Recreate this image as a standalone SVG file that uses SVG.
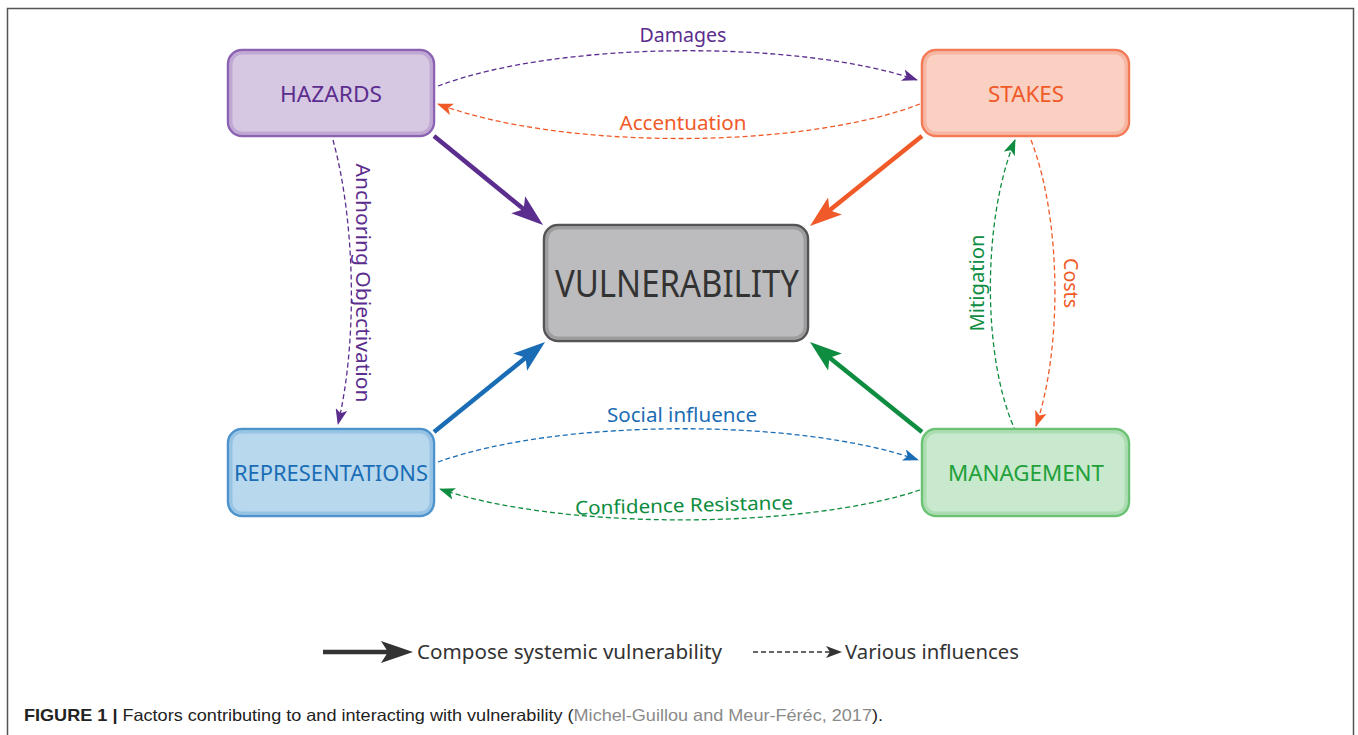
<svg xmlns="http://www.w3.org/2000/svg" width="1358" height="735" viewBox="0 0 1358 735">
<style>
.lbl{font-family:"Noto Sans","Open Sans",sans-serif;}
.node{stroke-width:2.5;}
.glow{fill:none;stroke-width:3;stroke-opacity:0.3;}
.thick{fill:none;stroke-width:4.5;stroke-linecap:butt;}
.dash{fill:none;stroke-width:1.3;stroke-dasharray:5 3;}
.cap{font-family:"Liberation Sans Narrow","Liberation Sans",Arial,sans-serif;font-size:16.5px;}
</style>
<defs>
<marker id="hP" markerUnits="userSpaceOnUse" markerWidth="32" markerHeight="24" viewBox="0 0 32 24" refX="12" refY="12" orient="auto"><path d="M0,1 L32,12 L0,23 L7,12 Z" fill="#5b2d8e"/></marker>
<marker id="hO" markerUnits="userSpaceOnUse" markerWidth="32" markerHeight="24" viewBox="0 0 32 24" refX="12" refY="12" orient="auto"><path d="M0,1 L32,12 L0,23 L7,12 Z" fill="#f05a28"/></marker>
<marker id="hB" markerUnits="userSpaceOnUse" markerWidth="32" markerHeight="24" viewBox="0 0 32 24" refX="12" refY="12" orient="auto"><path d="M0,1 L32,12 L0,23 L7,12 Z" fill="#1a6db5"/></marker>
<marker id="hG" markerUnits="userSpaceOnUse" markerWidth="32" markerHeight="24" viewBox="0 0 32 24" refX="12" refY="12" orient="auto"><path d="M0,1 L32,12 L0,23 L7,12 Z" fill="#0e8c3f"/></marker>
<marker id="hK" markerUnits="userSpaceOnUse" markerWidth="32" markerHeight="24" viewBox="0 0 32 24" refX="12" refY="12" orient="auto"><path d="M0,1 L32,12 L0,23 L7,12 Z" fill="#333333"/></marker>
<marker id="dP" markerUnits="userSpaceOnUse" markerWidth="16" markerHeight="12" viewBox="0 0 16 12" refX="15" refY="6" orient="auto"><path d="M0,0 L16,6 L0,12 L4,6 Z" fill="#5b2d8e"/></marker>
<marker id="dO" markerUnits="userSpaceOnUse" markerWidth="16" markerHeight="12" viewBox="0 0 16 12" refX="15" refY="6" orient="auto"><path d="M0,0 L16,6 L0,12 L4,6 Z" fill="#f05a28"/></marker>
<marker id="dB" markerUnits="userSpaceOnUse" markerWidth="16" markerHeight="12" viewBox="0 0 16 12" refX="15" refY="6" orient="auto"><path d="M0,0 L16,6 L0,12 L4,6 Z" fill="#1a6db5"/></marker>
<marker id="dG" markerUnits="userSpaceOnUse" markerWidth="16" markerHeight="12" viewBox="0 0 16 12" refX="15" refY="6" orient="auto"><path d="M0,0 L16,6 L0,12 L4,6 Z" fill="#0e8c3f"/></marker>
<marker id="dK" markerUnits="userSpaceOnUse" markerWidth="16" markerHeight="12" viewBox="0 0 16 12" refX="15" refY="6" orient="auto"><path d="M0,0 L16,6 L0,12 L4,6 Z" fill="#333333"/></marker>
</defs>
<rect width="1358" height="735" fill="#ffffff"/>
<path d="M7.5,735 V8.5 H1353.5 V735" fill="none" stroke="#555" stroke-width="1.5"/>

<g id="connectors">
  <path class="thick" stroke="#5b2d8e" d="M434,136 L527.5,212.3" marker-end="url(#hP)"/>
  <path class="thick" stroke="#f05a28" d="M922,136 L825.6,213.5" marker-end="url(#hO)"/>
  <path class="thick" stroke="#1a6db5" d="M434,432 L529.5,354.6" marker-end="url(#hB)"/>
  <path class="thick" stroke="#0e8c3f" d="M922,432 L825.6,354.5" marker-end="url(#hG)"/>

  <path class="dash" stroke="#5b2d8e" d="M438,86 C560,40 800,40 917,80" marker-end="url(#dP)"/>
  <path class="dash" stroke="#f05a28" d="M920,104 C800,150 560,150 438,104" marker-end="url(#dO)"/>
  <path class="dash" stroke="#5b2d8e" d="M333,140 C355,220 358,340 338,424" marker-end="url(#dP)"/>
  <path class="dash" stroke="#0e8c3f" d="M1016,432 C982,360 982,220 1015,140" marker-end="url(#dG)"/>
  <path class="dash" stroke="#f05a28" d="M1031,140 C1062,220 1062,350 1036,426" marker-end="url(#dO)"/>
  <path class="dash" stroke="#1a6db5" d="M438,462 C560,418 800,418 918,460" marker-end="url(#dB)"/>
  <path class="dash" stroke="#0e8c3f" d="M920,490 C800,530 560,530 440,489" marker-end="url(#dG)"/>

  <text class="lbl" x="683" y="42" font-size="19" fill="#5b2d8e" text-anchor="middle" textLength="87" lengthAdjust="spacingAndGlyphs">Damages</text>
  <text class="lbl" x="683" y="130" font-size="19" fill="#f05a28" text-anchor="middle" textLength="127" lengthAdjust="spacingAndGlyphs">Accentuation</text>
  <text class="lbl" x="682" y="422" font-size="19" fill="#1a6db5" text-anchor="middle" textLength="150" lengthAdjust="spacingAndGlyphs">Social influence</text>
  <text class="lbl" x="684" y="512" font-size="19" fill="#0e8c3f" text-anchor="middle" textLength="218" lengthAdjust="spacingAndGlyphs" transform="rotate(-1.5 684 506)">Confidence  Resistance</text>
  <text class="lbl" x="0" y="0" font-size="19" fill="#5b2d8e" text-anchor="middle" dominant-baseline="central" textLength="239" lengthAdjust="spacingAndGlyphs" transform="translate(363 283) rotate(90)">Anchoring  Objectivation</text>
  <text class="lbl" x="0" y="0" font-size="19" fill="#0e8c3f" text-anchor="middle" dominant-baseline="central" textLength="97" lengthAdjust="spacingAndGlyphs" transform="translate(977 283) rotate(-90)">Mitigation</text>
  <text class="lbl" x="0" y="0" font-size="19" fill="#f05a28" text-anchor="middle" dominant-baseline="central" textLength="50" lengthAdjust="spacingAndGlyphs" transform="translate(1071 283) rotate(90)">Costs</text>
</g>

<g id="hazards">
  <rect class="node" x="228" y="50" width="206" height="86" rx="14" fill="#d6c7e2" stroke="#8c62b3"/>
  <rect class="glow" x="231" y="53" width="200" height="80" rx="11" stroke="#8c62b3"/>
  <text class="lbl" x="331" y="102" font-size="21" fill="#5b2d8e" text-anchor="middle" textLength="102" lengthAdjust="spacingAndGlyphs">HAZARDS</text>
</g>
<g id="stakes">
  <rect class="node" x="922" y="50" width="207" height="86" rx="14" fill="#f9d0c2" stroke="#f27a56"/>
  <rect class="glow" x="925" y="53" width="201" height="80" rx="11" stroke="#f27a56"/>
  <text class="lbl" x="1026" y="102" font-size="21" fill="#f05a28" text-anchor="middle" textLength="76" lengthAdjust="spacingAndGlyphs">STAKES</text>
</g>
<g id="vulnerability">
  <rect class="node" x="544" y="225" width="264" height="116" rx="14" fill="#bcbcbe" stroke="#555557"/>
  <rect class="glow" x="547" y="228" width="258" height="110" rx="11" stroke="#555557"/>
  <text class="lbl" x="677" y="297" font-size="38" fill="#333333" text-anchor="middle" textLength="244" lengthAdjust="spacingAndGlyphs">VULNERABILITY</text>
</g>
<g id="representations">
  <rect class="node" x="228" y="429" width="206" height="87" rx="14" fill="#b8d8ee" stroke="#4d93cc"/>
  <rect class="glow" x="231" y="432" width="200" height="81" rx="11" stroke="#4d93cc"/>
  <text class="lbl" x="331" y="481" font-size="21" fill="#1a6db5" text-anchor="middle" textLength="194" lengthAdjust="spacingAndGlyphs">REPRESENTATIONS</text>
</g>
<g id="management">
  <rect class="node" x="922" y="429" width="207" height="87" rx="14" fill="#c8e9cd" stroke="#6cc274"/>
  <rect class="glow" x="925" y="432" width="201" height="81" rx="11" stroke="#6cc274"/>
  <text class="lbl" x="1026" y="481" font-size="21" fill="#22a03a" text-anchor="middle" textLength="156" lengthAdjust="spacingAndGlyphs">MANAGEMENT</text>
</g>

<g id="legend">
  <path class="thick" stroke="#333333" d="M323,652 L393,652" marker-end="url(#hK)"/>
  <text class="lbl" x="417" y="659" font-size="20" fill="#333333" textLength="305" lengthAdjust="spacingAndGlyphs">Compose systemic vulnerability</text>
  <path class="dash" stroke="#333333" stroke-width="1" stroke-dasharray="4 2" d="M753,652 L841,652" marker-end="url(#dK)"/>
  <text class="lbl" x="845" y="659" font-size="20" fill="#333333" textLength="174" lengthAdjust="spacingAndGlyphs">Various influences</text>
</g>

<g id="caption">
  <text class="cap" x="24" y="721" fill="#222" textLength="859" lengthAdjust="spacingAndGlyphs"><tspan font-weight="bold">FIGURE 1 |</tspan> Factors contributing to and interacting with vulnerability (<tspan fill="#8a8a8a">Michel-Guillou and Meur-Féréc, 2017</tspan>).</text>
</g>
</svg>
